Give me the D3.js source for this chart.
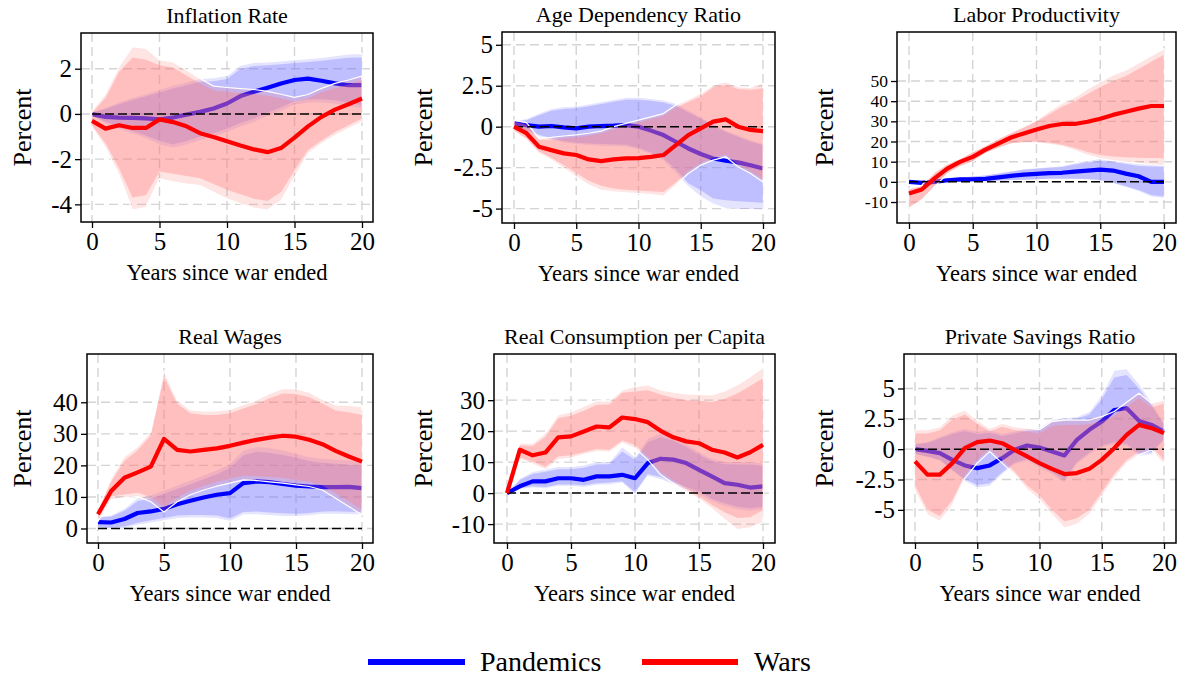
<!DOCTYPE html>
<html>
<head>
<meta charset="utf-8">
<script src="https://cdn.jsdelivr.net/npm/d3@7"></script>
<style>
  html, body { margin: 0; padding: 0; background: #fff; }
  svg { display: block; }
  svg text { font-family: "Liberation Serif", "Times New Roman", serif; fill: #000; }
</style>
</head>
<body>
<svg id="chart" width="1186" height="677"></svg>
<script>
// Years after the end of the war
const years = d3.range(0, 21);

// ---- Inflation Rate ----
const inflWar     = [-0.31,-0.65,-0.5,-0.62,-0.62,-0.24,-0.36,-0.55,-0.85,-1.02,-1.21,-1.4,-1.57,-1.69,-1.51,-1.05,-0.55,-0.13,0.19,0.43,0.68];
const inflWarHi95 = [0.15,0.9,2.1,2.98,2.9,2.4,2.3,1.94,1.57,1.23,1.17,1.12,1.08,1.0,0.87,0.73,0.86,1.13,1.35,1.5,1.67];
const inflWarHi90 = [0.05,0.7,1.85,2.5,2.4,2.15,2.05,1.7,1.35,1.05,0.98,0.92,0.88,0.8,0.68,0.55,0.68,0.95,1.15,1.3,1.5];
const inflWarLo90 = [-0.5,-1.3,-2.4,-3.7,-3.6,-2.55,-2.65,-2.75,-2.85,-3.1,-3.35,-3.55,-3.75,-3.85,-3.45,-2.5,-1.6,-1.17,-0.8,-0.5,-0.2];
const inflWarLo95 = [-0.6,-1.5,-2.7,-4.25,-4.13,-2.87,-3.0,-3.1,-3.17,-3.47,-3.76,-3.98,-4.16,-4.25,-3.84,-2.8,-1.76,-1.32,-0.95,-0.65,-0.36];
const inflPan     = [-0.01,-0.13,-0.16,-0.17,-0.2,-0.24,-0.16,-0.03,0.09,0.24,0.46,0.79,0.98,1.16,1.35,1.5,1.56,1.47,1.35,1.27,1.27];
const inflPanHi95 = [0.09,0.3,0.53,0.73,0.9,1.08,1.27,1.42,1.57,1.6,1.7,2.16,2.28,2.3,2.35,2.4,2.45,2.5,2.58,2.65,2.68];
const inflPanHi90 = [0.05,0.22,0.43,0.62,0.78,0.95,1.12,1.27,1.42,1.45,1.55,2.0,2.12,2.15,2.2,2.25,2.3,2.35,2.42,2.48,2.5];
const inflPanLo90 = [-0.08,-0.35,-0.55,-0.75,-0.95,-1.2,-1.35,-1.2,-1.0,-0.85,-0.65,-0.4,-0.2,0.05,0.3,0.55,0.65,0.65,0.6,0.5,0.4];
const inflPanLo95 = [-0.12,-0.45,-0.68,-0.88,-1.1,-1.38,-1.52,-1.38,-1.18,-1.02,-0.82,-0.58,-0.38,-0.12,0.12,0.38,0.48,0.48,0.42,0.32,0.22];

// ---- Age Dependency Ratio ----
const ageWar     = [0,-0.4,-1.22,-1.43,-1.63,-1.73,-2.0,-2.1,-2.0,-1.94,-1.92,-1.84,-1.73,-1.12,-0.51,-0.1,0.31,0.45,0,-0.2,-0.27];
const ageWarHi95 = [0.4,0.25,-0.7,-0.65,-0.57,-0.5,-0.4,-0.27,0,0.2,0.4,0.6,0.8,1.33,1.67,2.04,2.55,2.75,2.45,2.4,2.65];
const ageWarHi90 = [0.3,0.1,-0.82,-0.8,-0.72,-0.65,-0.56,-0.42,-0.15,0.05,0.25,0.45,0.65,1.15,1.5,1.84,2.4,2.55,2.3,2.25,2.35];
const ageWarLo90 = [-0.22,-0.7,-1.5,-1.9,-2.35,-2.82,-3.3,-3.6,-3.78,-3.85,-3.9,-3.94,-3.98,-3.4,-2.7,-2.2,-1.9,-1.7,-2.3,-2.7,-3.2];
const ageWarLo95 = [-0.3,-0.82,-1.63,-2.04,-2.55,-3.06,-3.57,-3.88,-3.98,-4.04,-4.08,-4.14,-4.24,-3.57,-2.86,-2.35,-2.04,-1.84,-2.45,-2.86,-3.37];
const agePan     = [0.2,0.1,0,0.04,-0.04,-0.1,0,0.04,0.06,0.1,0,-0.24,-0.51,-0.92,-1.33,-1.67,-1.94,-2.08,-2.18,-2.35,-2.55];
const agePanHi95 = [0.37,0.5,0.82,1.12,1.22,1.27,1.39,1.53,1.67,1.8,1.8,1.73,1.63,1.43,1.02,0.61,0.2,-0.2,-0.5,-0.8,-1.0];
const agePanHi90 = [0.3,0.4,0.7,0.98,1.08,1.12,1.24,1.38,1.52,1.64,1.65,1.58,1.48,1.28,0.88,0.48,0.08,-0.32,-0.62,-0.92,-1.12];
const agePanLo90 = [0,-0.22,-0.5,-0.7,-0.88,-0.98,-1.02,-1.06,-1.08,-1.1,-1.28,-1.58,-1.95,-2.6,-3.45,-3.88,-4.39,-4.49,-4.55,-4.6,-4.65];
const agePanLo95 = [-0.1,-0.32,-0.62,-0.82,-1.0,-1.1,-1.15,-1.2,-1.22,-1.24,-1.42,-1.72,-2.1,-2.86,-3.67,-4.29,-4.73,-5.0,-5.06,-5.06,-5.1];

// ---- Labor Productivity ----
const prodWar     = [-5.8,-3.8,1.7,6.6,9.9,12.4,16,19,22,24,26,27.7,28.7,28.7,29.8,31.3,33.2,34.8,36.3,37.6,37.6];
const prodWarHi95 = [-3.3,-1.7,5,9,11.6,15,18,21.5,24.5,27.5,30.7,35,39,42,46,49.7,53,55.5,59,62.5,66];
const prodWarHi90 = [-3.8,-2.2,4.2,8.4,11.2,14.6,17.6,21,24,26.8,29.8,33.5,37.2,40,43.5,47,50,52.5,56,59.5,63];
const prodWarLo90 = [-12.5,-8.5,-2,4.4,7.8,10.4,14.4,17,19.2,19.8,20,19.4,18.4,16.8,14.8,13.3,12.6,12.2,12,11.8,11.7];
const prodWarLo95 = [-13.3,-9,-2.5,4,7.5,10,14,16.5,18.8,19.3,19.4,18.6,17.6,15.5,13.2,11.5,10.5,9.8,9.2,8.6,8.2];
const prodPan     = [0,-0.5,0,0.8,1.2,1.3,1.5,2.2,3,3.6,4,4.3,4.5,5.1,5.6,6.1,5.6,4.1,2.8,0,0];
const prodPanHi95 = [1,1,1.5,2,2.5,3,3.5,4.5,5.5,6.5,7,7.5,8,9.5,10.5,11.6,11,10,9,9,9.1];
const prodPanHi90 = [0.7,0.6,1.1,1.6,2.1,2.6,3.1,4,5,6,6.5,7,7.4,8.6,9.6,10.4,9.8,8.8,7.8,7.6,7.5];
const prodPanLo90 = [-0.7,-1.2,-0.8,-0.2,0,0.2,0.3,0.5,0.8,1,1.3,1.5,1.5,1.5,1.4,0.9,-0.3,-2.2,-4,-6.5,-7.2];
const prodPanLo95 = [-1,-1.5,-1.1,-0.5,-0.3,-0.1,0,0.2,0.5,0.7,1,1.2,1.2,1.2,1,0.4,-0.8,-2.8,-4.8,-7.5,-8.3];

// ---- Real Wages ----
const wageWar     = [4.5,11.9,16.1,17.8,19.6,28.4,24.9,24.4,24.9,25.4,26.2,27.2,28.1,28.8,29.4,29.1,28.1,26.7,24.6,22.8,21.2];
const wageWarHi95 = [5.9,16,22.8,26,30.7,50,40.7,37.6,37.3,37.3,37.8,39.2,40.7,42.8,44.4,44.2,43.2,41,39.2,39,38.6];
const wageWarHi90 = [5.5,14.8,21.5,24.8,29.5,48.1,39.5,36.5,36,36,36.5,38,39.4,41.3,42.8,42.6,41.6,39.6,37.4,36.8,36];
const wageWarLo90 = [3.2,10.2,10.8,11.3,10,6.8,9.8,12,13.5,14.8,15.8,16.8,16.6,16.3,16,15.4,14.8,13.7,11.2,8.6,6];
const wageWarLo95 = [2.2,9.1,9.8,10.1,8.5,5.2,8.5,10.7,12.2,13.4,14.4,15.4,15.2,14.8,14.4,13.8,13.3,12.2,9.6,7,4.3];
const wagePan     = [2,1.9,3,4.9,5.4,6.2,7.7,8.8,9.8,10.7,11.2,14.4,14.9,14.7,14.1,13.6,13.3,13.1,13.1,13.2,12.8];
const wagePanHi95 = [3.8,4.3,6.4,9.8,10.7,12.2,13.8,15.4,17,18.6,20.7,24.9,26,25.7,24.9,23.9,22.8,22.3,22,21.7,21.2];
const wagePanHi90 = [3.4,3.8,5.6,8.6,9.6,11,12.5,14,15.6,17.2,19.2,23.2,24.3,24,23.3,22.4,21.4,20.8,20.5,20.2,19.8];
const wagePanLo90 = [0.4,0.3,0.6,1.8,2.6,3.3,4.1,4.3,4.3,4.1,3.2,5.2,5.4,5.1,4.8,4.7,4.9,5.4,5.5,5.3,5.2];
const wagePanLo95 = [0,-0.1,0,1,1.7,2.4,3.1,3.3,3.3,3.1,2.2,4.3,4.3,4.1,3.8,3.8,4,4.5,4.5,4.3,4.3];

// ---- Real Consumption per Capita ----
const consWar     = [0,14,12.2,13.1,18,18.3,19.9,21.5,21.2,24.4,23.9,22.9,20.1,18,16.7,16.1,14,13.1,11.5,13.2,15.6];
const consWarHi95 = [0,16.1,16.1,19.4,25.3,26.3,28,29.8,29.8,33.3,34.4,35,33.3,32.6,32,31.9,31.7,33,35,37.6,40.5];
const consWarHi90 = [0,15.4,15.2,18.2,24.2,25,26.6,28.4,28.6,32.4,32.8,33.2,31.8,30.8,30,29.8,29.4,30.4,32.2,34.6,37.1];
const consWarLo90 = [0,11.5,10.2,8.4,11.8,12.2,13.2,14.2,14,17,15.5,11.8,6.9,4.2,1.5,-1,-3.8,-6.2,-8,-7.8,-5.5];
const consWarLo95 = [0,10.8,9.4,7.5,10.8,11.3,12.4,13.4,13.2,16.1,14.5,10.8,5.9,3.2,0.5,-2,-5,-8.5,-11.8,-11.2,-9.5];
const consPan     = [0,2.2,3.8,3.8,4.8,4.8,4.3,5.4,5.4,5.9,4.8,9.7,11.1,10.8,9.7,7.5,5.4,3.2,2.7,1.8,2.2];
const consPanHi95 = [0,4.8,7,7.8,8.6,8.6,9.1,10.2,10.2,15,11.8,17.7,19.4,18.3,16.1,13.4,11.3,10.2,10.2,10.2,9.7];
const consPanHi90 = [0,4.2,6.2,6.9,7.7,7.7,8.2,9.2,9.3,13.4,10.8,16.4,18,17,14.9,12.4,10.4,9.3,9.2,9.2,8.8];
const consPanLo90 = [0,1.6,2.2,2,2.8,2.8,2.5,3.2,3.4,3.8,0.4,6.2,5.2,3.6,2,0.5,-1.8,-3.3,-4.4,-4.9,-4.4];
const consPanLo95 = [0,1.1,1.6,1.4,2.2,2.2,1.8,2.5,2.7,3.2,-0.5,5.4,4.3,2.7,1.1,-0.5,-2.7,-4.3,-5.4,-5.9,-5.4];

// ---- Private Savings Ratio ----
const saveWar     = [-1.01,-2.1,-2.1,-1.15,0.08,0.58,0.71,0.49,-0.05,-0.6,-1.15,-1.62,-2.05,-1.97,-1.62,-0.88,0.08,1.18,2.0,1.73,1.32];
const saveWarHi95 = [1.6,1.6,1.86,2.82,3.23,2.41,1.73,2.14,1.86,1.73,1.6,2.27,2.4,2.4,2.4,2.68,3.1,3.86,4.6,3.78,4.05];
const saveWarHi90 = [1.3,1.3,1.55,2.45,2.85,2.1,1.45,1.85,1.58,1.45,1.3,1.9,2.0,2.0,2.05,2.3,2.75,3.5,4.2,3.45,3.75];
const saveWarLo90 = [-3.0,-5.0,-5.5,-4.2,-2.1,-0.85,0.05,-0.85,-1.85,-3.0,-3.8,-5.0,-5.95,-5.7,-5.0,-3.55,-2.05,-0.9,-0.2,0.2,-0.9];
const saveWarLo95 = [-3.5,-5.4,-5.95,-4.6,-2.4,-1.15,-0.19,-1.15,-2.1,-3.34,-4.16,-5.4,-6.5,-6.2,-5.4,-3.9,-2.4,-1.15,-0.47,-0.05,-1.29];
const savePan     = [0,-0.14,-0.33,-0.88,-1.34,-1.56,-1.34,-0.74,-0.05,0.3,0.14,-0.19,-0.52,0.77,1.59,2.27,3.23,3.37,2.33,2.0,1.45];
const savePanHi95 = [0.49,0.63,1.04,1.45,1.73,1.5,1.6,1.3,1.5,1.7,1.75,2.45,2.6,2.7,3.1,4.5,6.5,6.65,5.4,3.9,2.2];
const savePanHi90 = [0.38,0.5,0.88,1.25,1.5,1.25,1.35,1.08,1.3,1.5,1.55,2.25,2.4,2.5,2.85,4.1,5.9,6.1,5.0,3.6,2.0];
const savePanLo90 = [-0.38,-0.6,-0.88,-1.7,-2.45,-2.95,-2.8,-1.9,-1.1,-0.8,-1.35,-1.9,-2.55,-1.05,-0.25,0.3,0.6,0.45,-0.35,-0.25,0.85];
const savePanLo95 = [-0.47,-0.7,-1.0,-1.84,-2.66,-3.2,-3.07,-2.1,-1.29,-1.0,-1.56,-2.1,-2.8,-1.29,-0.47,0.08,0.36,0.22,-0.6,-0.47,0.63];

// Axis ticks and labels
const xTicks = [0, 5, 10, 15, 20];
const inflTicks = [-4, -2, 0, 2];
const ageTicks = [-5, -2.5, 0, 2.5, 5];
const prodTicks = [-10, 0, 10, 20, 30, 40, 50];
const wageTicks = [0, 10, 20, 30, 40];
const consTicks = [-10, 0, 10, 20, 30];
const saveTicks = [-5, -2.5, 0, 2.5, 5];

const titles = ["Inflation Rate", "Age Dependency Ratio", "Labor Productivity",
                "Real Wages", "Real Consumption per Capita", "Private Savings Ratio"];
const xTitle = "Years since war ended";
const yTitle = "Percent";
const legendLabels = ["Pandemics", "Wars"];

const panels = [
  { title: titles[0], ticks: inflTicks, yDom: [-4.78, 3.58], tickSize: 25,
    war: [inflWar, inflWarLo95, inflWarHi95, inflWarLo90, inflWarHi90],
    pan: [inflPan, inflPanLo95, inflPanHi95, inflPanLo90, inflPanHi90],
    box: { l: 81, t: 33, r: 373, b: 222, x0: 92, x1: 362, yt: 31 } },
  { title: titles[1], ticks: ageTicks, yDom: [-5.88, 5.78], tickSize: 25,
    war: [ageWar, ageWarLo95, ageWarHi95, ageWarLo90, ageWarHi90],
    pan: [agePan, agePanLo95, agePanHi95, agePanLo90, agePanHi90],
    box: { l: 502, t: 32, r: 775, b: 223, x0: 514, x1: 763, yt: 432 } },
  { title: titles[2], ticks: prodTicks, yDom: [-20.4, 74.3], tickSize: 17.5,
    war: [prodWar, prodWarLo95, prodWarHi95, prodWarLo90, prodWarHi90],
    pan: [prodPan, prodPanLo95, prodPanHi95, prodPanLo90, prodPanHi90],
    box: { l: 897, t: 32, r: 1176, b: 223, x0: 909, x1: 1164, yt: 833 } },
  { title: titles[3], ticks: wageTicks, yDom: [-4.6, 55.3], tickSize: 25,
    war: [wageWar, wageWarLo95, wageWarHi95, wageWarLo90, wageWarHi90],
    pan: [wagePan, wagePanLo95, wagePanHi95, wagePanLo90, wagePanHi90],
    box: { l: 87, t: 354, r: 373, b: 543, x0: 98, x1: 362, yt: 31 } },
  { title: titles[4], ticks: consTicks, yDom: [-16.1, 44.9], tickSize: 25,
    war: [consWar, consWarLo95, consWarHi95, consWarLo90, consWarHi90],
    pan: [consPan, consPanLo95, consPanHi95, consPanLo90, consPanHi90],
    box: { l: 494, t: 354, r: 775, b: 543, x0: 507, x1: 763, yt: 432 } },
  { title: titles[5], ticks: saveTicks, yDom: [-7.73, 7.84], tickSize: 25,
    war: [saveWar, saveWarLo95, saveWarHi95, saveWarLo90, saveWarHi90],
    pan: [savePan, savePanLo95, savePanHi95, savePanLo90, savePanHi90],
    box: { l: 904, t: 354, r: 1176, b: 543, x0: 915, x1: 1164, yt: 833 } }
];

const serif = "'Liberation Serif', 'Times New Roman', serif";
const style = {
  panLine: "#0000ff", warLine: "#ff0000",
  panFill: "rgb(120,120,255)", warFill: "rgb(255,120,120)",
  outerOpacity: 0.2, innerOpacity: 0.34,
  grid: "#d4d4d4"
};

const svg = d3.select("#chart");

panels.forEach(p => {
  const b = p.box;
  const x = d3.scaleLinear().domain([0, 20]).range([b.x0, b.x1]);
  const y = d3.scaleLinear().domain(p.yDom).range([b.b, b.t]);
  const g = svg.append("g");

  // dashed grid
  g.append("g").selectAll("line").data(p.ticks).join("line")
    .attr("x1", b.l).attr("x2", b.r)
    .attr("y1", d => y(d)).attr("y2", d => y(d))
    .attr("stroke", style.grid).attr("stroke-width", 1.4)
    .attr("stroke-dasharray", "9,5");
  g.append("g").selectAll("line").data(xTicks).join("line")
    .attr("y1", b.t).attr("y2", b.b)
    .attr("x1", d => x(d)).attr("x2", d => x(d))
    .attr("stroke", style.grid).attr("stroke-width", 1.4)
    .attr("stroke-dasharray", "9,5");

  const area = (lo, hi) => d3.area()
    .x((d, i) => x(years[i]))
    .y0((d, i) => y(lo[i]))
    .y1((d, i) => y(hi[i]))(years);
  const line = vals => d3.line()
    .x((d, i) => x(years[i]))
    .y((d, i) => y(vals[i]))(years);

  // confidence bands: outer (lighter, white edge) then inner
  const drawBands = (s, fill) => {
    g.append("path").attr("d", area(s[1], s[2]))
      .attr("fill", fill).attr("fill-opacity", style.outerOpacity)
      .attr("stroke", "#fff").attr("stroke-width", 1.2).attr("stroke-linejoin", "round");
    g.append("path").attr("d", area(s[3], s[4]))
      .attr("fill", fill).attr("fill-opacity", style.innerOpacity);
  };
  const drawLine = (s, col) => {
    g.append("path").attr("d", line(s[0]))
      .attr("fill", "none").attr("stroke", col).attr("stroke-width", 4.2)
      .attr("stroke-linejoin", "round");
  };

  drawBands(p.pan, style.panFill);
  drawLine(p.pan, style.panLine);
  drawBands(p.war, style.warFill);

  // zero reference line
  g.append("line")
    .attr("x1", x(0)).attr("x2", x(20))
    .attr("y1", y(0)).attr("y2", y(0))
    .attr("stroke", "#000").attr("stroke-width", 1.5)
    .attr("stroke-dasharray", "9,4");

  drawLine(p.war, style.warLine);

  // plot frame
  g.append("rect").attr("x", b.l).attr("y", b.t)
    .attr("width", b.r - b.l).attr("height", b.b - b.t)
    .attr("fill", "none").attr("stroke", "#000").attr("stroke-width", 1.5);

  // y axis
  const yAxis = d3.axisLeft(y).tickValues(p.ticks).tickSize(6).tickPadding(3)
    .tickFormat(d => String(d));
  const ya = g.append("g").attr("transform", `translate(${b.l},0)`).call(yAxis);
  ya.select(".domain").remove();
  ya.selectAll("line").attr("stroke", "#000").attr("stroke-width", 1.3);
  ya.selectAll("text").style("font-family", serif).style("font-size", p.tickSize + "px").attr("fill", "#000");

  // x axis
  const xAxis = d3.axisBottom(x).tickValues(xTicks).tickSize(6).tickPadding(4);
  const xa = g.append("g").attr("transform", `translate(0,${b.b})`).call(xAxis);
  xa.select(".domain").remove();
  xa.selectAll("line").attr("stroke", "#000").attr("stroke-width", 1.3);
  xa.selectAll("text").style("font-family", serif).style("font-size", "25px").attr("fill", "#000");

  // panel title and axis titles
  g.append("text").attr("x", (b.l + b.r) / 2).attr("y", b.t - 10)
    .attr("text-anchor", "middle").style("font-family", serif).style("font-size", "22px").text(p.title);
  g.append("text").attr("x", (b.l + b.r) / 2).attr("y", b.b + 58)
    .attr("text-anchor", "middle").style("font-family", serif).style("font-size", "22.5px").text(xTitle);
  g.append("text")
    .attr("transform", `translate(${b.yt},${(b.t + b.b) / 2}) rotate(-90)`)
    .attr("text-anchor", "middle").style("font-family", serif).style("font-size", "26px").text(yTitle);
});

// legend
const legend = svg.append("g");
const legendItems = [
  { label: legendLabels[0], color: style.panLine, x1: 368, x2: 465, tx: 480 },
  { label: legendLabels[1], color: style.warLine, x1: 642, x2: 738, tx: 754 }
];
legendItems.forEach(it => {
  legend.append("line").attr("x1", it.x1).attr("x2", it.x2)
    .attr("y1", 662).attr("y2", 662)
    .attr("stroke", it.color).attr("stroke-width", 6);
  legend.append("text").attr("x", it.tx).attr("y", 671)
    .style("font-family", serif).style("font-size", "28px").text(it.label);
});
</script>
</body>
</html>
